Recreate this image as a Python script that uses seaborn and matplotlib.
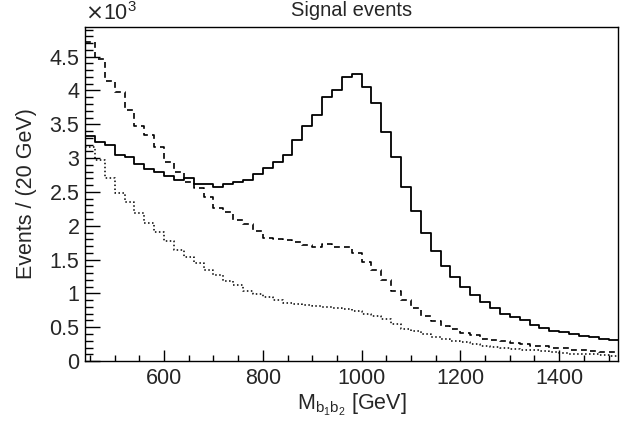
import matplotlib
matplotlib.use("Agg")
import matplotlib.pyplot as plt
import seaborn as sns
import numpy as np
from matplotlib.ticker import MultipleLocator, FormatStrFormatter

sns.set_style("white")
plt.rcParams["font.family"] = ["Liberation Sans", "DejaVu Sans"]

# 20 GeV bins from 440 to 1520 GeV, counts in units of 10^3
bin_edges = list(range(440, 1540, 20))

solid = [3.32, 3.24, 3.20, 3.05, 3.01, 2.92, 2.84, 2.79, 2.73, 2.68,
         2.71, 2.62, 2.62, 2.58, 2.62, 2.65, 2.68, 2.76, 2.85, 2.95,
         3.05, 3.27, 3.47, 3.64, 3.91, 4.01, 4.20, 4.24, 4.05, 3.81,
         3.39, 3.01, 2.58, 2.22, 1.90, 1.63, 1.41, 1.25, 1.10, 0.97,
         0.87, 0.79, 0.70, 0.65, 0.60, 0.54, 0.49, 0.45, 0.43, 0.40,
         0.37, 0.35, 0.33, 0.31]

dashed = [4.72, 4.47, 4.14, 3.98, 3.71, 3.48, 3.34, 3.16, 2.95, 2.79,
          2.64, 2.56, 2.42, 2.27, 2.20, 2.09, 2.02, 1.92, 1.82, 1.81,
          1.79, 1.76, 1.71, 1.69, 1.73, 1.68, 1.69, 1.60, 1.47, 1.35,
          1.20, 1.04, 0.90, 0.78, 0.66, 0.59, 0.52, 0.47, 0.42, 0.38,
          0.33, 0.31, 0.29, 0.27, 0.25, 0.23, 0.22, 0.20, 0.19, 0.17,
          0.16, 0.15, 0.14, 0.13]

dotted = [3.16, 2.97, 2.70, 2.49, 2.35, 2.19, 2.04, 1.91, 1.77, 1.64,
          1.54, 1.45, 1.35, 1.27, 1.18, 1.13, 1.03, 0.99, 0.95, 0.90,
          0.86, 0.85, 0.83, 0.81, 0.80, 0.78, 0.77, 0.74, 0.70, 0.66,
          0.62, 0.55, 0.48, 0.44, 0.40, 0.36, 0.33, 0.30, 0.28, 0.25,
          0.22, 0.21, 0.20, 0.18, 0.17, 0.16, 0.15, 0.14, 0.12, 0.11,
          0.11, 0.10, 0.09, 0.08]

centers = [(a + b) / 2 for a, b in zip(bin_edges[:-1], bin_edges[1:])]

fig = plt.figure(figsize=(6.32, 4.34), dpi=100)
ax = fig.add_axes([0.1345, 0.168, 0.844, 0.770])

sns.histplot(x=centers, weights=dotted, bins=bin_edges, element="step",
             fill=False, color="black", linewidth=1.1, linestyle=(0, (1, 1.6)), ax=ax)
sns.histplot(x=centers, weights=dashed, bins=bin_edges, element="step",
             fill=False, color="black", linewidth=1.2, linestyle=(0, (3.5, 2.5)), ax=ax)
sns.histplot(x=centers, weights=solid, bins=bin_edges, element="step",
             fill=False, color="black", linewidth=1.3, ax=ax)

ax.set_xlim(440, 1520)
ax.set_ylim(0, 4.94)

ax.xaxis.set_major_locator(MultipleLocator(200))
ax.xaxis.set_minor_locator(MultipleLocator(50))
ax.yaxis.set_major_locator(MultipleLocator(0.5))
ax.yaxis.set_minor_locator(MultipleLocator(0.1))
ax.yaxis.set_major_formatter(FormatStrFormatter("%g"))

ax.tick_params(axis="both", which="both", direction="in", labelsize=15.5,
               top=False, right=False, left=True, bottom=True,
               width=1, color="black")
ax.tick_params(axis="y", which="major", length=10.8, pad=4)
ax.tick_params(axis="y", which="minor", length=5.5)
ax.tick_params(axis="x", which="major", length=8, pad=5)
ax.tick_params(axis="x", which="minor", length=4.3)

for s in ax.spines.values():
    s.set_color("black")
    s.set_linewidth(1)

ax.set_xlabel(r"M$_{\mathregular{b_1b_2}}$ [GeV]", fontsize=15.5)
ax.xaxis.set_label_coords(0.5, -0.092)
ax.set_ylabel("Events / (20 GeV)", fontsize=15.5, labelpad=9)
ax.set_title("Signal events", fontsize=14.5, pad=7.5)
ax.text(0.0, 1.005, r"$\times$10$^{\mathregular{3}}$", transform=ax.transAxes,
        fontsize=15.5, ha="left", va="bottom")

fig.savefig("out.png", dpi=100)
